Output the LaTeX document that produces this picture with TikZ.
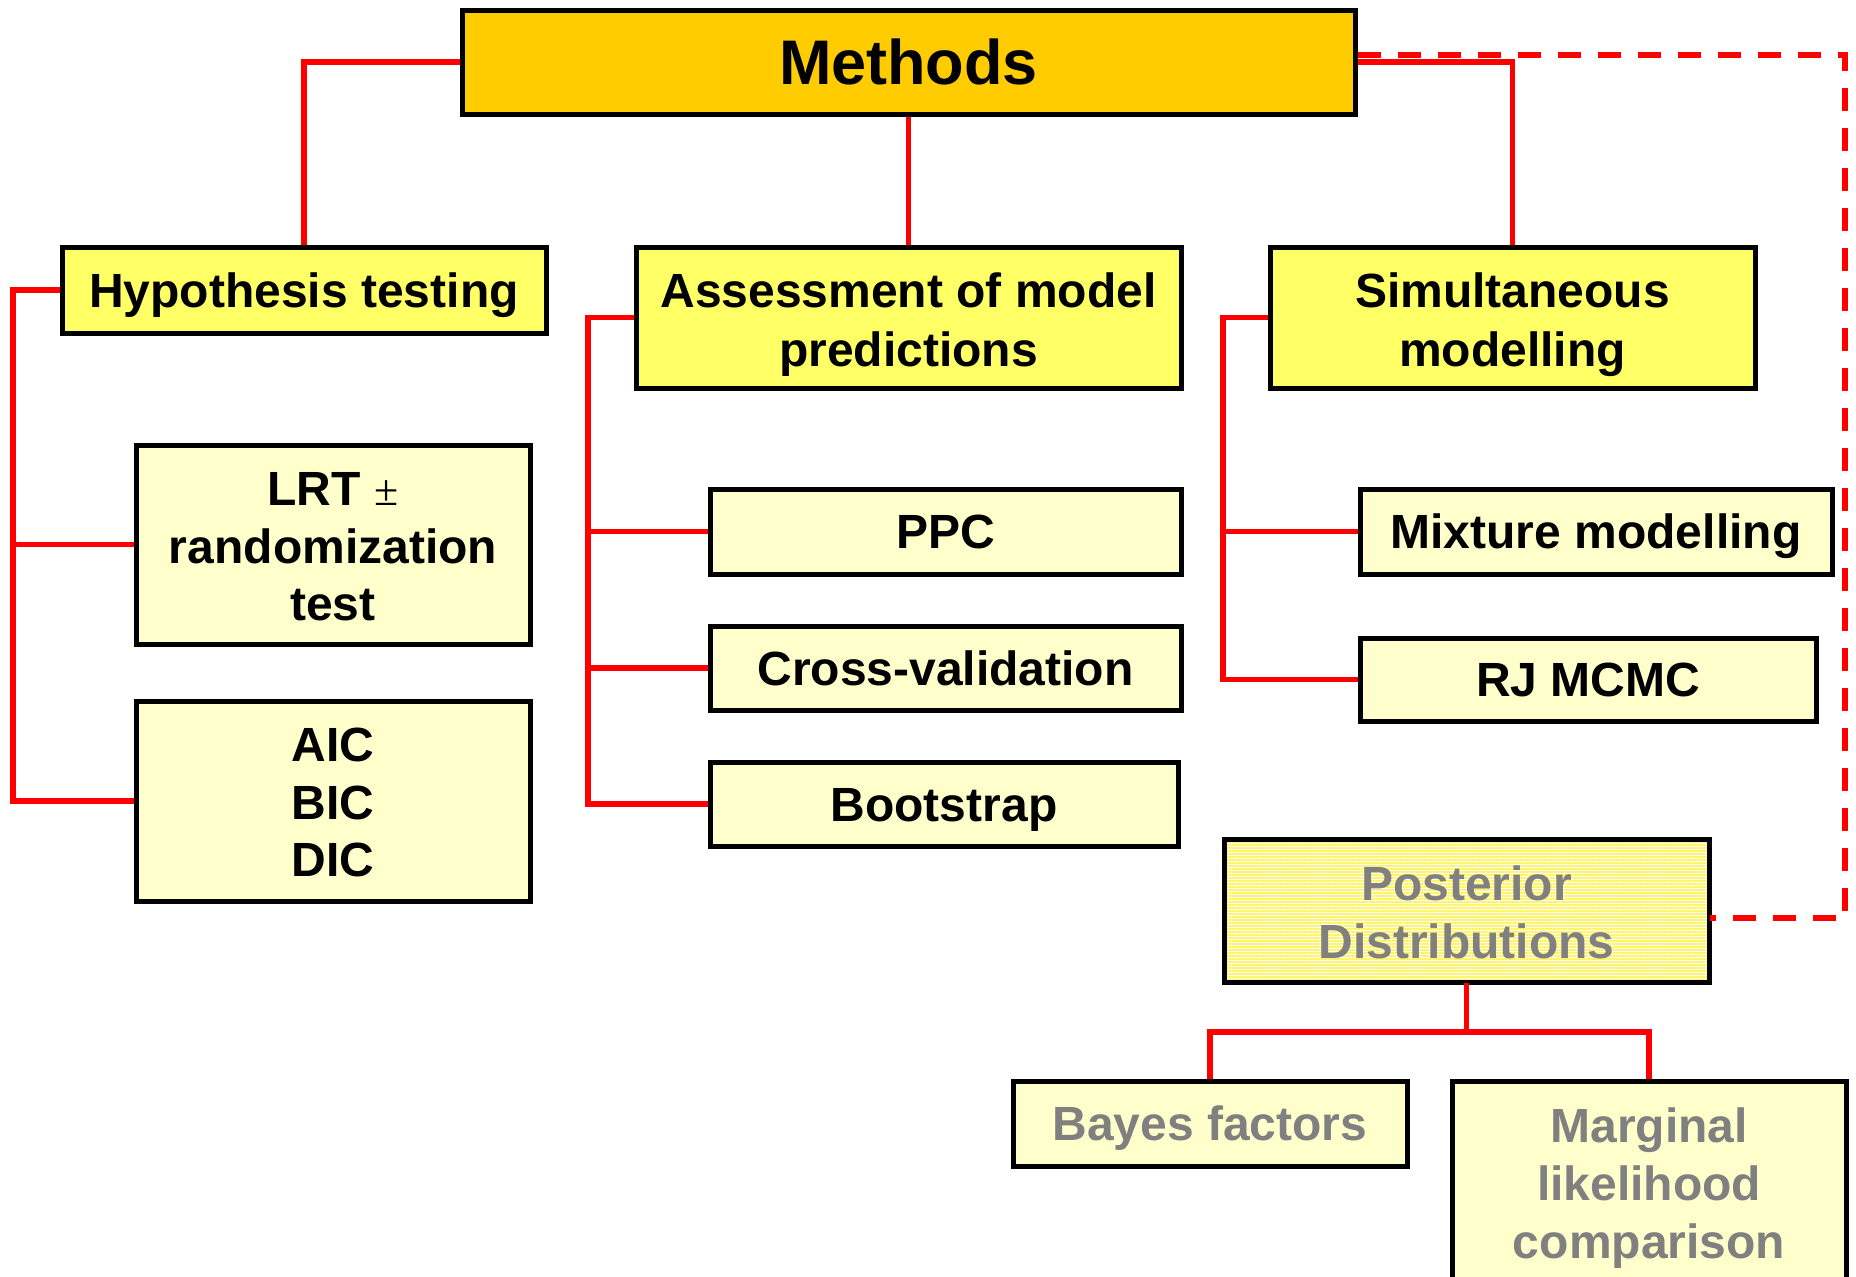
\documentclass[tikz,border=0pt]{standalone}
\usepackage{fontspec}
\setmainfont{Liberation Sans}
\newfontfamily\pmfont{Liberation Serif}
\usetikzlibrary{patterns.meta}
\definecolor{gold}{HTML}{FFCC00}
\definecolor{lvlone}{HTML}{FFFF66}
\definecolor{lvltwo}{HTML}{FFFFCC}
\definecolor{linkred}{HTML}{FF0000}
\definecolor{greytext}{HTML}{808080}
\definecolor{stripe}{HTML}{FFF45A}
% strut that sets the height of a box's first text line
\newcommand\firstline[1]{\rule{0pt}{#1pt}}
\tikzset{
  box/.style={draw=black, line width=5pt, inner sep=0pt, align=center,
    font=\fontsize{48}{58}\selectfont\bfseries},
  oneline/.style={text height=34.4pt, text depth=0pt},
  topbox/.style={box, fill=gold, font=\fontsize{63}{70}\selectfont\bfseries,
    text height=45pt, text depth=0pt},
  mainbox/.style={box, fill=lvlone},
  subbox/.style={box, fill=lvltwo},
  greybox/.style={text=greytext},
  stripebox/.style={box, text=greytext,
    preaction={fill=white},
    pattern={Lines[angle=0,distance=3pt,line width=1.3pt]}, pattern color=stripe},
  conn/.style={draw=linkred, line width=5.5pt},
  dconn/.style={draw=linkred, line width=5.5pt, dash pattern=on 23pt off 17pt},
}
\begin{document}
\begin{tikzpicture}[x=1pt, y=-1pt]
\useasboundingbox (0,0) rectangle (1856,1277);
\clip (0,0) rectangle (1856,1277);

% root
\node[topbox, minimum width=893pt, minimum height=104pt] (methods) at (908.5,62) {Methods};

% first level
\node[mainbox, oneline, minimum width=484pt, minimum height=86pt] (hyp) at (304,290) {Hypothesis testing};
\node[mainbox, minimum width=545pt, minimum height=141pt,
  font=\fontsize{48}{59}\selectfont\bfseries] (assess) at (908.5,317.5)
  {\firstline{48.4}Assessment of model\\predictions};
\node[mainbox, minimum width=485pt, minimum height=141pt,
  font=\fontsize{48}{59}\selectfont\bfseries] (simul) at (1512.5,317.5)
  {\firstline{48.4}Simultaneous\\modelling};

% hypothesis testing branch
\node[subbox, minimum width=394pt, minimum height=199pt,
  font=\fontsize{48}{57.5}\selectfont\bfseries] (lrt) at (333,544.5)
  {\firstline{38.4}LRT {\pmfont\mdseries\fontsize{44}{57.5}\selectfont ±}\\randomization\\test};
\node[subbox, minimum width=394pt, minimum height=200pt,
  font=\fontsize{48}{57.5}\selectfont\bfseries] (aic) at (333,801)
  {\firstline{36.5}AIC\\BIC\\DIC};

% model prediction branch
\node[subbox, oneline, minimum width=471pt, minimum height=85pt] (ppc) at (945.5,531.5) {PPC};
\node[subbox, oneline, minimum width=471pt, minimum height=84pt] (cv) at (945.5,668) {Cross-validation};
\node[subbox, oneline, minimum width=468pt, minimum height=84pt] (boot) at (944,804) {Bootstrap};

% simultaneous modelling branch
\node[subbox, oneline, minimum width=472pt, minimum height=85pt] (mix) at (1596,531.5) {Mixture modelling};
\node[subbox, oneline, minimum width=456pt, minimum height=83pt] (rj) at (1588,679.5) {RJ MCMC};

% posterior distributions
\node[stripebox, minimum width=485pt, minimum height=143pt] (post) at (1466.5,910.5)
  {\firstline{39.4}Posterior\\Distributions};
\node[subbox, greybox, oneline, minimum width=394pt, minimum height=85pt] (bayes) at (1210,1123.5) {Bayes factors};
\node[subbox, greybox, minimum width=394pt, minimum height=206pt] (marg) at (1649,1184)
  {\firstline{43.8}Marginal\\likelihood\\comparison};

% connector corners
\coordinate (hl) at (13,290);
\coordinate (al) at (588,317.5);
\coordinate (sl) at (1223,317.5);
\coordinate (pj) at (1466.5,1032);
\coordinate (dc) at (1845,918);

% root connectors
\draw[conn] (methods.west) -| (hyp.north);
\draw[conn] (methods.south) -- (assess.north);
\draw[conn] (methods.east) -| (simul.north);
\draw[dconn] ([yshift=7pt]methods.east) -| (dc) -- (post.east |- dc);

% hypothesis testing connectors
\draw[conn] (hyp.west) -- (hl) |- (aic.west);
\draw[conn] (lrt.west) -- (lrt.west -| hl);

% model prediction connectors
\draw[conn] (assess.west) -- (al) |- (boot.west);
\draw[conn] (ppc.west) -- (ppc.west -| al);
\draw[conn] (cv.west) -- (cv.west -| al);

% simultaneous modelling connectors
\draw[conn] (simul.west) -- (sl) |- (rj.west);
\draw[conn] (mix.west) -- (mix.west -| sl);

% posterior connectors
\draw[conn] (post.south) -- (pj);
\draw[conn] (bayes.north) |- (pj) -| (marg.north);
\end{tikzpicture}
\end{document}
